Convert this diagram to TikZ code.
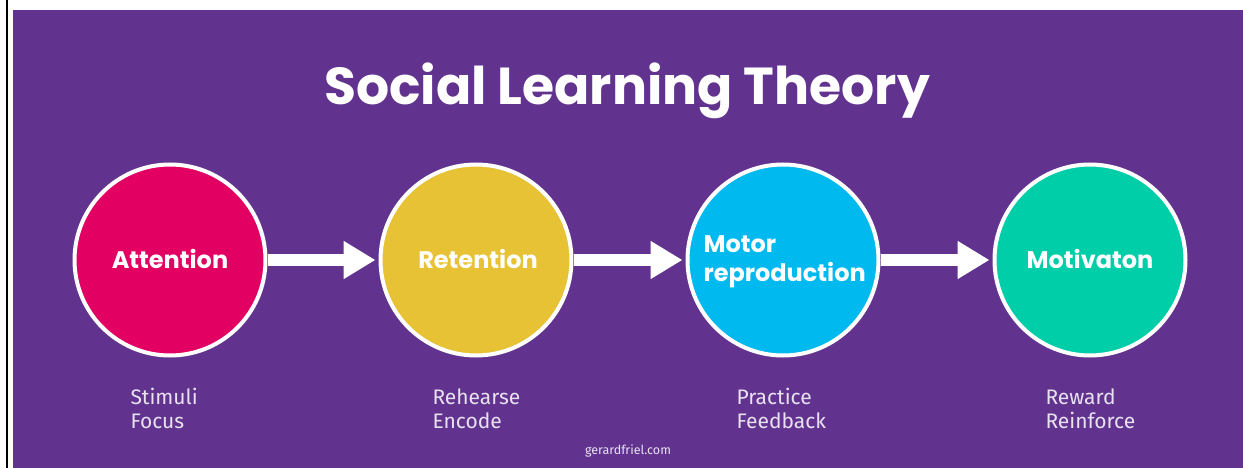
\documentclass[tikz,border=0pt]{standalone}
\usepackage{fontspec}
\setmainfont{Fira Sans}
\newfontfamily\poppins{Poppins}
\usetikzlibrary{arrows.meta}
\tikzset{
  stage/.style={circle,draw=white,line width=4pt,inner sep=0pt,minimum size=191pt,text=white},
  stagetext/.style={text=white,font=\poppins\bfseries\fontsize{24}{28.5}\selectfont},
  steptext/.style={text=notecolor,align=left,font=\fontsize{21}{24}\selectfont},
  flow/.style={white,line width=12pt,-{Triangle[length=32pt,width=36pt]},shorten >=3pt}
}
\begin{document}
\begin{tikzpicture}[x=1pt,y=-1pt]
\definecolor{bgcolor}{RGB}{97,51,143}
\definecolor{attcolor}{RGB}{227,0,99}
\definecolor{retcolor}{RGB}{232,194,53}
\definecolor{motcolor}{RGB}{0,185,239}
\definecolor{motivcolor}{RGB}{0,206,168}
\definecolor{notecolor}{RGB}{232,226,240}
\useasboundingbox (0,0) rectangle (1243,468);
\fill [black] (5.5,0) rectangle (7.5,468);
\fill [bgcolor] (13,10) rectangle (1243,468);
\node [anchor=base,text=white,font=\poppins\bfseries\fontsize{52}{60}\selectfont] (title) at (627,105) {Social Learning Theory};
\node [stage,fill=attcolor] (att) at (170,260) {};
\node [stage,fill=retcolor] (ret) at (476,260) {};
\node [stage,fill=motcolor] (mot) at (783,260) {};
\node [stage,fill=motivcolor] (motiv) at (1090,260) {};
\node [stagetext,anchor=base] (atttext) at (170,268) {Attention};
\node [stagetext,anchor=base] (rettext) at (478,268) {Retention};
\node [stagetext,anchor=west,align=left] (mottext) at (700,262) {Motor\\reproduction};
\node [stagetext,anchor=base] (motivtext) at (1090,268) {Motivaton};
\draw [flow] (att) -- (ret);
\draw [flow] (ret) -- (mot);
\draw [flow] (mot) -- (motiv);
\node [steptext,anchor=base west] (attnote) at (127,428) {Stimuli\\Focus};
\node [steptext,anchor=base west] (retnote) at (429,428) {Rehearse\\Encode};
\node [steptext,anchor=base west] (motnote) at (733,428) {Practice\\Feedback};
\node [steptext,anchor=base west] (motivnote) at (1042,428) {Reward\\Reinforce};
\node [anchor=base,text=notecolor,font=\fontsize{12.5}{15}\selectfont] (site) at (628,454) {gerardfriel.com};
\end{tikzpicture}
\end{document}
